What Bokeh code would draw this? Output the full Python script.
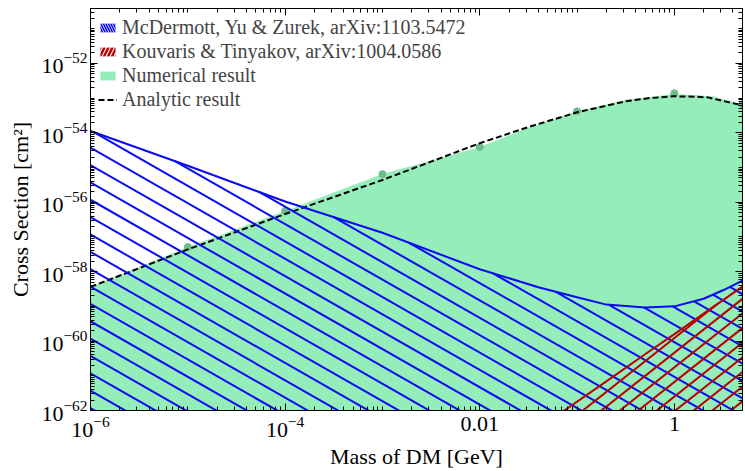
import numpy as np
from bokeh.plotting import figure
from bokeh.models import (FixedTicker, CustomJSTickFormatter, LogTickFormatter, LogAxis,
                          Legend, LegendItem, ColumnDataSource, Range1d)
from bokeh.embed import file_html
from bokeh.resources import INLINE

# ---------------- data (log10 of cross section) -------------
# Numerical result (upper edge of the green region)
mass_num = [1e-6, 1e-5, 1e-4, 1e-3, 3.2e-3, 1e-2, 3.2e-2, 0.1, 0.32, 1.0, 2.5, 5.0]
sigma_num_log = [-58.44, -57.29, -56.25, -55.19, -54.80, -54.41, -53.85, -53.38,
                 -53.05, -52.88, -52.95, -53.18]
# Numerical sample points (dots)
mass_dots = [1e-5, 1e-4, 1e-3, 1e-2, 0.1, 1.0, 5.0]
sigma_dots_log = [-57.29, -56.25, -55.19, -54.41, -53.38, -52.86, -53.18]
# Analytic result (dashed)
mass_an = [1e-6, 1e-5, 1e-4, 1e-3, 1e-2, 3.2e-2, 0.1, 0.32, 0.56, 1.0, 1.6, 2.2, 5.0]
sigma_an_log = [-58.44, -57.36, -56.34, -55.36, -54.30, -53.83, -53.41, -53.09,
                -53.00, -52.95, -52.96, -52.98, -53.21]
# McDermott, Yu & Zurek bound (upper edge of blue hatched region)
mass_mc = [1e-6, 1e-5, 1e-4, 1e-3, 1e-2, 4e-2, 0.1, 0.2, 0.5, 1.0, 2.0, 3.2, 5.0]
sigma_mc_log = [-53.95, -54.95, -55.98, -56.88, -57.93, -58.45, -58.74, -58.95,
                -59.03, -59.00, -58.78, -58.53, -58.26]
# Kouvaris & Tinyakov bound (upper edge of red hatched region)
mass_kt = [0.074, 0.2, 0.5, 1.0, 2.0, 5.0]
sigma_kt_log = [-62.0, -61.16, -60.38, -59.80, -59.21, -58.43]

x_ticks = [1e-6, 1e-4, 0.01, 1.0]
x_tick_overrides = {0.01: "0.01", 1.0: "1"}
y_ticks = [1e-62, 1e-60, 1e-58, 1e-56, 1e-54, 1e-52]

labels = ["McDermott, Yu & Zurek, arXiv:1103.5472",
          "Kouvaris & Tinyakov, arXiv:1004.0586",
          "Numerical result", "Analytic result"]

# ---------------- styling ----------------
FONT = "Liberation Serif"
GREEN = "#95edba"
DOT = "#6cbd89"
BLUE = "#0a0af5"
RED = "#b80000"
X_LO, X_HI = 1e-6, 10 ** 0.70
Y_LO, Y_HI = 1e-62, 10 ** -50.42
FLOOR = 1e-64

p = figure(width=745, height=471, x_axis_type="log", y_axis_type="log",
           x_range=Range1d(X_LO, X_HI), y_range=Range1d(Y_LO, Y_HI),
           output_backend="svg", toolbar_location=None,
           min_border_left=90, min_border_right=1, min_border_top=8,
           min_border_bottom=60)
p.xgrid.visible = False
p.ygrid.visible = False
p.outline_line_color = "black"
p.background_fill_color = "white"


def pw(a):
    return [10.0 ** v for v in a]


# green numerical region
r_num = p.varea(x=mass_num, y1=[FLOOR] * len(mass_num), y2=pw(sigma_num_log),
                fill_color=GREEN, fill_alpha=1.0)
p.scatter(mass_dots, pw(sigma_dots_log), size=7, color=DOT)

# analytic dashed
r_an = p.line(mass_an, pw(sigma_an_log), line_color="black", line_width=2,
              line_dash="6 3")

# hatch line construction (in log space, clipped to the regions)
LX = np.linspace(-6.5, 1.0, 6001)
ly_mc = np.interp(LX, np.log10(mass_mc), sigma_mc_log)
ly_kt = np.interp(LX, np.log10(mass_kt), sigma_kt_log, left=-70.0)

blue_xs, blue_ys = [], []
for k in range(-3, 45):
    b = -61.43 + 0.5 * k
    yh = b - 1.6 * (LX + 6.0)
    m = (yh <= ly_mc) & (yh >= -63.5)
    if m.sum() < 2:
        continue
    idx = np.where(m)[0]
    blue_xs.append([10.0 ** LX[idx[0]], 10.0 ** LX[idx[-1]]])
    blue_ys.append([10.0 ** yh[idx[0]], 10.0 ** yh[idx[-1]]])
p.multi_line(blue_xs, blue_ys, line_color=BLUE, line_width=2)
p.line(mass_mc, pw(sigma_mc_log), line_color=BLUE, line_width=2)

red_xs, red_ys = [], []
for k in range(0, 20):
    a = -1.13 + 0.19 * k
    yh = -62.0 + 2.22 * (LX - a)
    m = (yh <= ly_kt) & (yh >= -63.5)
    if m.sum() < 2:
        continue
    idx = np.where(m)[0]
    red_xs.append([10.0 ** LX[idx[0]], 10.0 ** LX[idx[-1]]])
    red_ys.append([10.0 ** yh[idx[0]], 10.0 ** yh[idx[-1]]])
p.multi_line(red_xs, red_ys, line_color=RED, line_width=2)
p.line(mass_kt, pw(sigma_kt_log), line_color=RED, line_width=2)

# legend proxies (hatched swatches): zero-area regions below the visible range
proxy = dict(x=[X_LO, X_HI], y1=[FLOOR, FLOOR], y2=[FLOOR, FLOOR])
r_mc_leg = p.varea(x="x", y1="y1", y2="y2", source=ColumnDataSource(proxy),
                   fill_alpha=0, hatch_pattern="\\", hatch_color=BLUE,
                   hatch_scale=5, hatch_weight=1.6)
r_kt_leg = p.varea(x="x", y1="y1", y2="y2", source=ColumnDataSource(proxy),
                   fill_alpha=0, hatch_pattern="/", hatch_color=RED,
                   hatch_scale=8, hatch_weight=2.5)

legend = Legend(items=[LegendItem(label=labels[0], renderers=[r_mc_leg]),
                       LegendItem(label=labels[1], renderers=[r_kt_leg]),
                       LegendItem(label=labels[2], renderers=[r_num]),
                       LegendItem(label=labels[3], renderers=[r_an])],
                location="top_left", border_line_alpha=0,
                background_fill_alpha=0, label_text_font=FONT,
                label_text_font_size="20px", glyph_width=19, glyph_height=11,
                label_height=20, spacing=1, padding=1, margin=7,
                label_standoff=5)
p.add_layout(legend)


# ticks / axes
def ticker(majors):
    exps = [int(round(np.log10(t))) for t in majors]
    lo, hi = min(exps) - 1, max(exps) + 3
    minor = [m * 10.0 ** n for n in range(lo, hi) for m in range(1, 10)
             if not (m == 1 and n in exps)]
    return FixedTicker(ticks=majors, minor_ticks=minor)


blank = CustomJSTickFormatter(code='return " ";')


def style(ax, show, standoff=5, label_standoff=5):
    ax.major_tick_in = 7
    ax.major_tick_out = 0
    ax.minor_tick_in = 4
    ax.minor_tick_out = 0
    ax.axis_line_color = "black"
    ax.major_tick_line_color = "black"
    ax.minor_tick_line_color = "black"
    if show:
        ax.major_label_text_font = FONT
        ax.major_label_text_font_size = "22px"
        ax.major_label_text_color = "black"
        ax.axis_label_text_font = FONT
        ax.axis_label_text_font_size = "22px"
        ax.axis_label_text_font_style = "normal"
        ax.axis_label_text_color = "black"
        ax.major_label_standoff = standoff
        ax.axis_label_standoff = label_standoff
    else:
        ax.major_label_text_font_size = "1px"
        ax.major_label_standoff = 0


p.xaxis.ticker = ticker(x_ticks)
p.xaxis.formatter = LogTickFormatter()
p.xaxis.major_label_overrides = x_tick_overrides
p.xaxis.axis_label = "Mass of DM [GeV]"
p.yaxis.ticker = ticker(y_ticks)
p.yaxis.formatter = LogTickFormatter()
p.yaxis.axis_label = "Cross Section [cm²]"
style(p.xaxis[0], True, standoff=6, label_standoff=4)
style(p.yaxis[0], True, standoff=3, label_standoff=5)

top = LogAxis(ticker=ticker(x_ticks), formatter=blank)
right = LogAxis(ticker=ticker(y_ticks), formatter=blank)
style(top, False)
style(right, False)
p.add_layout(top, "above")
p.add_layout(right, "right")

open("out.html", "w").write(file_html(p, INLINE))
